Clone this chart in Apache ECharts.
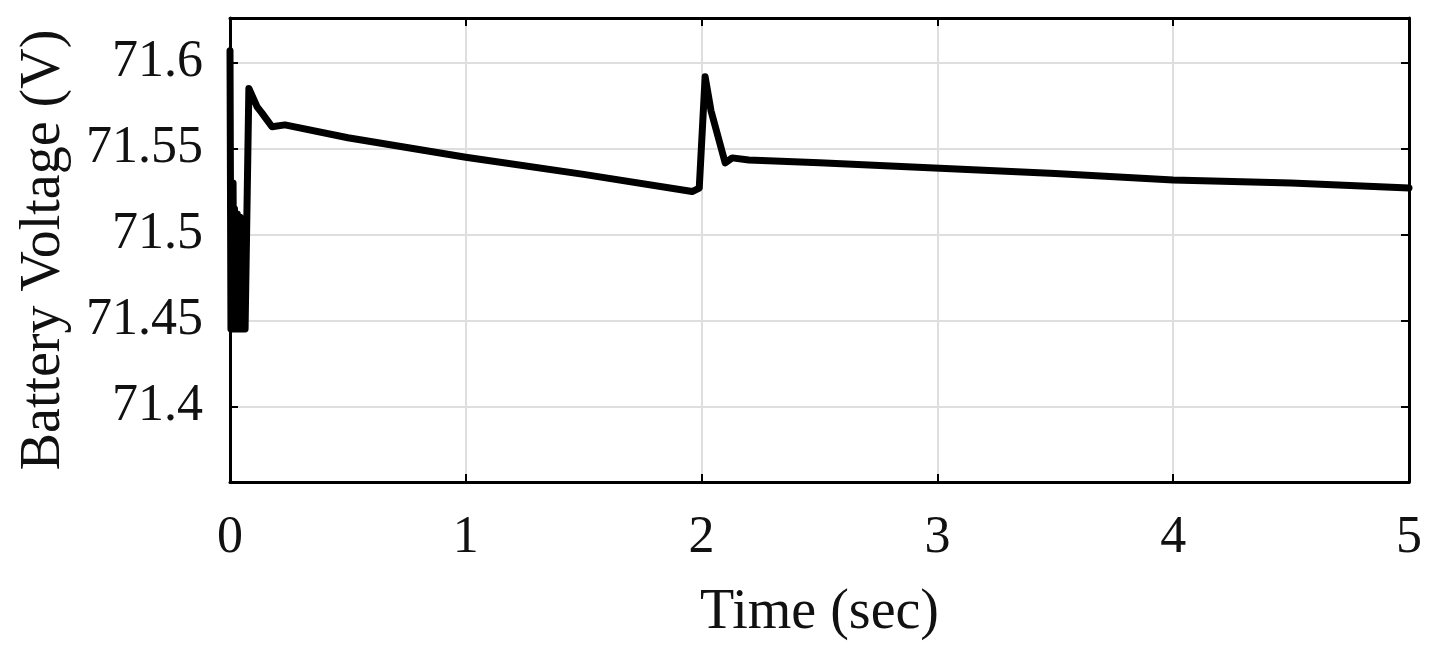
<!DOCTYPE html>
<html>
<head>
<meta charset="utf-8">
<script src="https://cdn.jsdelivr.net/npm/echarts@6/dist/echarts.min.js"></script>
<style>
html,body{margin:0;padding:0;background:#fff;}
#chart{width:1430px;height:656px;}
</style>
</head>
<body>
<div id="chart"></div>
<script>
// Time (sec)
var time = [0, 0.004, 0.007, 0.010, 0.013, 0.016, 0.019, 0.022, 0.025, 0.028, 0.031, 0.034, 0.037, 0.040, 0.043, 0.046, 0.049, 0.052, 0.055, 0.058, 0.061, 0.064, 0.080, 0.115, 0.135, 0.178, 0.233, 0.5, 1.0, 1.5, 1.96, 1.99, 2.015, 2.04, 2.10, 2.13, 2.2, 2.5, 2.94, 3.5, 4.0, 4.5, 5.0];
// Battery Voltage (V)
var voltage = [71.607, 71.445, 71.512, 71.445, 71.53, 71.445, 71.515, 71.445, 71.51, 71.445, 71.512, 71.445, 71.508, 71.445, 71.51, 71.445, 71.506, 71.445, 71.508, 71.445, 71.505, 71.445, 71.585, 71.5743, 71.5708, 71.5627, 71.5638, 71.5563, 71.545, 71.535, 71.525, 71.527, 71.5918, 71.572, 71.5417, 71.5446, 71.5434, 71.5417, 71.539, 71.5355, 71.5318, 71.530, 71.5271];
var xTicks = [0, 1, 2, 3, 4, 5];
var yTicks = [71.4, 71.45, 71.5, 71.55, 71.6];
var yMin = 71.356, yMax = 71.626;

var points = time.map(function (t, i) { return [t, voltage[i]]; });
var font = 'Liberation Serif';
var chart = echarts.init(document.getElementById('chart'), null, {renderer: 'canvas'});
var gridLine = {show: true, lineStyle: {color: '#dedede', width: 2}};
chart.setOption({
  animation: false,
  backgroundColor: '#fff',
  grid: {left: 230, right: 21, top: 18, bottom: 174, containLabel: false},
  xAxis: [{
    type: 'value', min: 0, max: 5, interval: 1, position: 'bottom',
    name: 'Time (sec)', nameLocation: 'middle', nameGap: 103,
    nameTextStyle: {fontFamily: font, fontSize: 56, color: '#111'},
    axisLine: {show: true, onZero: false, lineStyle: {color: '#000', width: 3}},
    axisTick: {show: true, inside: true, length: 8, lineStyle: {color: '#000', width: 2}},
    axisLabel: {fontFamily: font, fontSize: 52, color: '#111', margin: 30},
    splitLine: gridLine
  }, {
    type: 'value', min: 0, max: 5, interval: 1, position: 'top',
    axisLine: {show: true, onZero: false, lineStyle: {color: '#000', width: 3}},
    axisTick: {show: true, inside: true, length: 8, lineStyle: {color: '#000', width: 2}},
    axisLabel: {show: false}, splitLine: {show: false}
  }],
  yAxis: [{
    type: 'value', min: yMin, max: yMax, position: 'left',
    name: 'Battery Voltage (V)', nameLocation: 'middle', nameGap: 158,
    nameTextStyle: {fontFamily: font, fontSize: 56, color: '#111'},
    axisLine: {show: true, onZero: false, lineStyle: {color: '#000', width: 3}},
    axisTick: {show: true, inside: true, length: 8, lineStyle: {color: '#000', width: 2}, customValues: yTicks},
    axisLabel: {fontFamily: font, fontSize: 52, color: '#111', margin: 27, customValues: yTicks,
      formatter: function (v) { return String(parseFloat(v.toFixed(2))); }},
    splitLine: gridLine
  }, {
    type: 'value', min: yMin, max: yMax, position: 'right',
    axisLine: {show: true, onZero: false, lineStyle: {color: '#000', width: 3}},
    axisTick: {show: true, inside: true, length: 8, lineStyle: {color: '#000', width: 2}, customValues: yTicks},
    axisLabel: {show: false, customValues: yTicks}, splitLine: {show: false}
  }],
  series: [{
    type: 'line', xAxisIndex: 0, yAxisIndex: 0,
    data: points, showSymbol: false, symbol: 'none',
    lineStyle: {color: '#000', width: 7, join: 'round', cap: 'round'},
    clip: true
  }]
});
</script>
</body>
</html>
